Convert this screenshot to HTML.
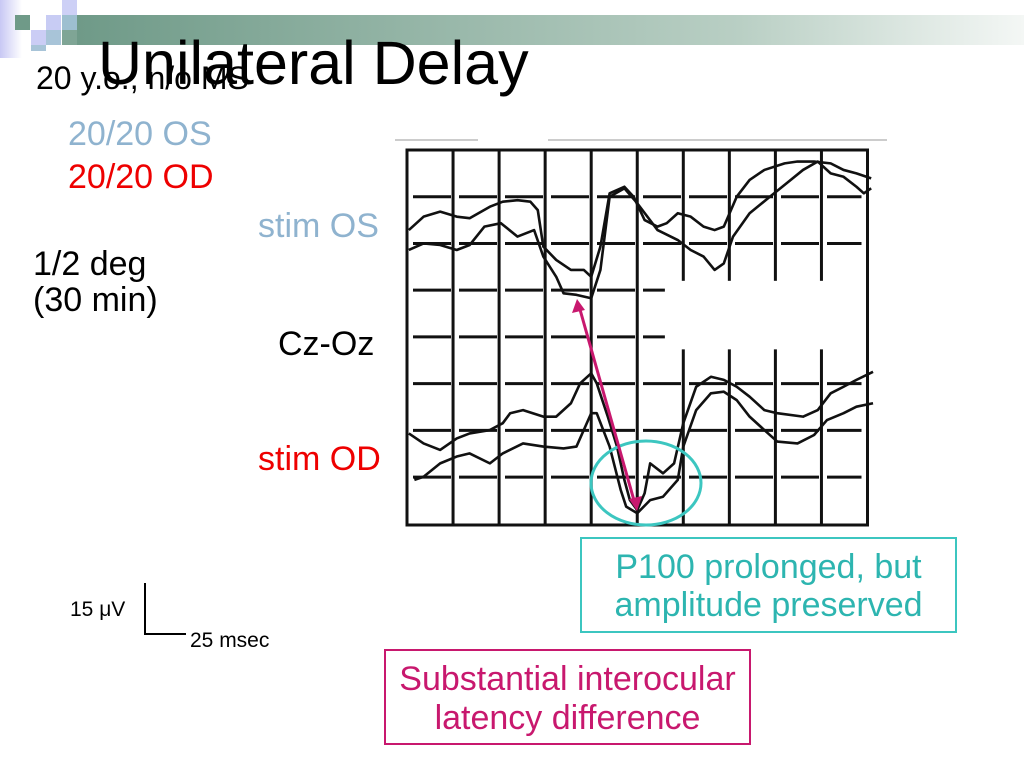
<!DOCTYPE html>
<html><head><meta charset="utf-8"><style>
body{margin:0;width:1024px;height:768px;overflow:hidden;background:#fff;font-family:"Liberation Sans",sans-serif;position:relative}
.t{position:absolute;white-space:nowrap;line-height:1}
.sq{position:absolute;width:15px;height:15px}
</style></head><body>
<div>
<div style="position:absolute;left:0;top:0;width:22px;height:58px;background:linear-gradient(90deg,#c8c8f4,#fff)"></div>
<div class="sq" style="left:15px;top:15px;background:#6f9a88"></div>
<div class="sq" style="left:62px;top:0;background:#cdd0f6"></div>
<div class="sq" style="left:46px;top:15px;background:#c8ccf4"></div>
<div class="sq" style="left:62px;top:15px;background:#9dbfd0"></div>
<div class="sq" style="left:31px;top:30px;background:#cbcdf5"></div>
<div class="sq" style="left:46px;top:30px;background:#a8c4d8"></div>
<div class="sq" style="left:62px;top:30px;background:#7fa595"></div>
<div class="sq" style="left:31px;top:45px;height:6px;background:#a8c4d8"></div>
<div style="position:absolute;left:77px;top:15px;width:947px;height:30px;background:linear-gradient(90deg,#6f9a88,#b9cfc4 70%,#f4f7f5)"></div>
</div>
<div class="t" style="left:98px;top:33px;font-size:61px">Unilateral Delay</div>
<div class="t" style="left:36px;top:62px;font-size:32px">20 y.o., n/o MS</div>
<div class="t" style="left:68px;top:117px;font-size:34px;color:#8fb3cf">20/20 OS</div>
<div class="t" style="left:68px;top:160px;font-size:34px;color:#e00">20/20 OD</div>
<div class="t" style="left:258px;top:209px;font-size:34px;color:#8fb3cf">stim OS</div>
<div class="t" style="left:33px;top:247px;font-size:34px">1/2 deg</div>
<div class="t" style="left:33px;top:283px;font-size:34px">(30 min)</div>
<div class="t" style="left:278px;top:327px;font-size:34px">Cz-Oz</div>
<div class="t" style="left:258px;top:442px;font-size:34px;color:#e00">stim OD</div>
<div class="t" style="left:70px;top:599px;font-size:21px">15 μV</div>
<div class="t" style="left:190px;top:630px;font-size:21px">25 msec</div>
<div style="position:absolute;left:144px;top:583px;width:40px;height:50px;border-left:2px solid #000;border-bottom:2px solid #000"></div>
<div class="t" style="left:580px;top:537px;width:377px;height:96px;border:2px solid #3cc6c0;color:#2db5b0;font-size:34px;text-align:center;line-height:38px;padding-top:9px;box-sizing:border-box;white-space:normal">P100 prolonged, but<br>amplitude preserved</div>
<div class="t" style="left:384px;top:649px;width:367px;height:96px;border:2px solid #c8186e;color:#c8186e;font-size:34px;text-align:center;line-height:39px;padding-top:9px;box-sizing:border-box;white-space:normal">Substantial interocular<br>latency difference</div>
<svg id="chart" width="1024" height="768" style="position:absolute;left:0;top:0"></svg>
<script>
const gridTimes=[0,25,50,75,100,125,150,175,200,225,250];
const gridVolts=[-15,-30,-45,-60,-75,-90,-105];
const t1=[1,9,18,27,34,45,52,60,67,71,74,81,89,96,100,105,110,118,123,129,136,141,147,154,161,167,172,179,186,194,205,212,221,230,237,244,252];
const v1=[-25.7,-21.4,-19.8,-21.4,-21.9,-18.2,-16.6,-16.1,-16.6,-19.3,-31,-35.3,-38.5,-38.5,-40.7,-31,-13.9,-11.8,-15,-22.5,-24.6,-23.5,-20.3,-21.4,-24.6,-25.7,-24.6,-15,-9.6,-6.4,-4.3,-3.7,-3.7,-4.3,-6.4,-7.5,-9.1];
const t2=[1,9,18,27,34,42,51,60,69,74,81,85,92,100,105,110,118,125,136,147,154,161,167,172,177,186,197,206,215,223,230,237,244,248,252];
const v2=[-32.1,-30,-30.5,-32.1,-30.5,-24.6,-23.5,-27.8,-25.7,-34.2,-40.7,-46,-46.5,-47.6,-38.5,-15,-12.3,-17.1,-25.7,-28.9,-32.1,-34.2,-38.5,-36.4,-27.8,-20.3,-15,-10.7,-6.4,-3.7,-7.5,-8.6,-11.8,-13.9,-12.3];
const t3=[1,9,18,27,34,45,52,56,63,74,81,89,94,100,103,109,114,118,121,125,129,132,139,145,150,157,165,172,179,186,194,201,215,223,230,237,244,253];
const v3=[-91,-94.2,-96.3,-92.6,-91,-89.9,-87.7,-84.5,-83.5,-85.6,-85.6,-81.3,-74.9,-71.7,-74.9,-85.6,-95.2,-105.9,-112.4,-115.6,-110.2,-100.6,-103.8,-100.6,-87.7,-76,-72.8,-73.8,-76,-79.2,-83.5,-84.5,-85.6,-83.5,-78.1,-76,-73.8,-71.2];
const t4=[4,9,18,27,34,45,52,63,74,85,92,100,103,110,116,119,125,132,139,147,150,157,165,172,179,186,194,201,212,221,228,237,244,253];
const v4=[-105.9,-104.9,-100.6,-98.4,-97.4,-100.6,-97.4,-94.2,-95.2,-95.8,-95.2,-84.5,-84.5,-95.2,-109.1,-114.5,-116.6,-112.4,-111.3,-105.9,-95.2,-83.5,-78.1,-77.6,-80.3,-85.6,-89.9,-93.6,-94.2,-91.5,-86.7,-84.5,-82.4,-81.3];
const X=t=>407+t*1.842, Y=v=>150-v*3.115;
const NS='http://www.w3.org/2000/svg', svg=document.getElementById('chart');
function mk(tag,a){const e=document.createElementNS(NS,tag);for(const k in a)e.setAttribute(k,a[k]);svg.appendChild(e);return e;}
let e;
e=mk('line',{x1:395,y1:140,x2:478,y2:140,stroke:'#ccc','stroke-width':2});


e=mk('line',{x1:548,y1:140,x2:887,y2:140,stroke:'#ccc','stroke-width':2});


e=mk('rect',{x:X(0),y:Y(0),width:X(250)-X(0),height:525-Y(0),fill:'none',stroke:'#111','stroke-width':3});


gridTimes.forEach(t=>{e=mk('line',{x1:X(t),y1:Y(0),x2:X(t),y2:525,stroke:'#111','stroke-width':3});

});
gridVolts.forEach(v=>{e=mk('line',{x1:X(0)+6,y1:Y(v),x2:X(250)-6,y2:Y(v),stroke:'#111','stroke-width':3,'stroke-dasharray':'38 8'});

});
e=mk('rect',{x:X(140),y:Y(-42),width:X(247)-X(140),height:Y(-64)-Y(-42),fill:'#fff'});


[[t1,v1,'trace-os-1'],[t2,v2,'trace-os-2'],[t3,v3,'trace-od-1'],[t4,v4,'trace-od-2']].forEach(([ts,vs,n])=>{
e=mk('polyline',{points:ts.map((t,i)=>X(t)+','+Y(vs[i])).join(' '),fill:'none',stroke:'#111','stroke-width':2.6,'stroke-linejoin':'round'});

});
e=mk('ellipse',{cx:646,cy:483,rx:55,ry:42,fill:'none',stroke:'#3cc6c0','stroke-width':3});


e=mk('line',{x1:579,y1:306,x2:635,y2:504,stroke:'#c8186e','stroke-width':3});


e=mk('polygon',{points:'577,299 572,313 585,310',fill:'#c8186e'});


e=mk('polygon',{points:'637,511 629,499 642,496',fill:'#c8186e'});


</script>
</body></html>
